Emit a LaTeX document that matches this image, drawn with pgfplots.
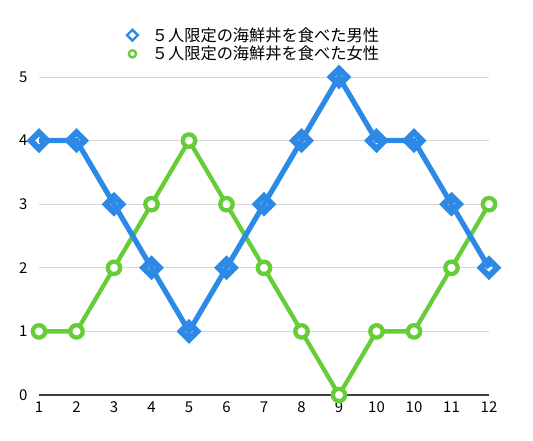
\documentclass[border=0pt]{standalone}
\usepackage{pgfplots}
\pgfplotsset{compat=1.18}
\usepackage{fontspec}
\setmainfont{Noto Sans CJK JP}

\definecolor{mblue}{RGB}{44,137,230}
\definecolor{fgreen}{RGB}{102,204,56}
\definecolor{gridc}{RGB}{214,214,214}

\begin{document}
\begin{tikzpicture}
\path[use as bounding box] (0,0) rectangle (533bp,441bp);
\begin{axis}[
    scale only axis,
    width=450bp, height=318bp,
    at={(39bp,46bp)}, anchor=south west,
    xmin=0, xmax=12, ymin=0, ymax=5,
    xtick={0,...,12},
    xticklabels={1,2,3,4,5,6,7,8,9,10,10,11,12},
    ytick={0,...,5},
    axis line style={draw=none},
    tick style={draw=none},
    ymajorgrids,
    grid style={gridc, line width=0.9bp},
    clip=false,
    /pgf/number format/assume math mode=true,
    tick label style={font=\fontsize{15}{17}\selectfont},
    yticklabel style={xshift=-8bp},
    xticklabel style={yshift=-3bp},
    legend style={draw=none, fill=none, at={(axis description cs:0.478,1.102)},
        anchor=center, font=\fontsize{16.3}{18}\selectfont, row sep=-0.5bp,
        /tikz/every odd column/.append style={column sep=12bp},
        legend cell align=left},
]
\draw[black!75, line width=1.6bp] (axis cs:0,0) -- (axis cs:12,0);

\addlegendimage{only marks, mark=square, mark size=3.8bp,
    mark options={rotate=45, draw=mblue, fill=white, line width=2.4bp, line join=miter}}
\addlegendentry{５人限定の海鮮丼を食べた男性}
\addlegendimage{only marks, mark=*, mark size=3.6bp,
    mark options={draw=fgreen, fill=white, line width=2.4bp}}
\addlegendentry{５人限定の海鮮丼を食べた女性}

% female
\addplot[forget plot, fgreen, line width=4.3bp, mark=*, mark size=6.2bp,
    mark options={draw=fgreen, fill=white, line width=4.3bp}]
coordinates {(0,1)(1,1)(2,2)(3,3)(4,4)(5,3)(6,2)(7,1)(8,0)(9,1)(10,1)(11,2)(12,3)};

% male
\addplot[forget plot, mblue, line width=5.2bp, mark=square, mark size=5.8bp,
    mark options={rotate=45, draw=mblue, fill=white, line width=6.0bp, line join=miter}]
coordinates {(0,4)(1,4)(2,3)(3,2)(4,1)(5,2)(6,3)(7,4)(8,5)(9,4)(10,4)(11,3)(12,2)};
\end{axis}
\end{tikzpicture}
\end{document}
